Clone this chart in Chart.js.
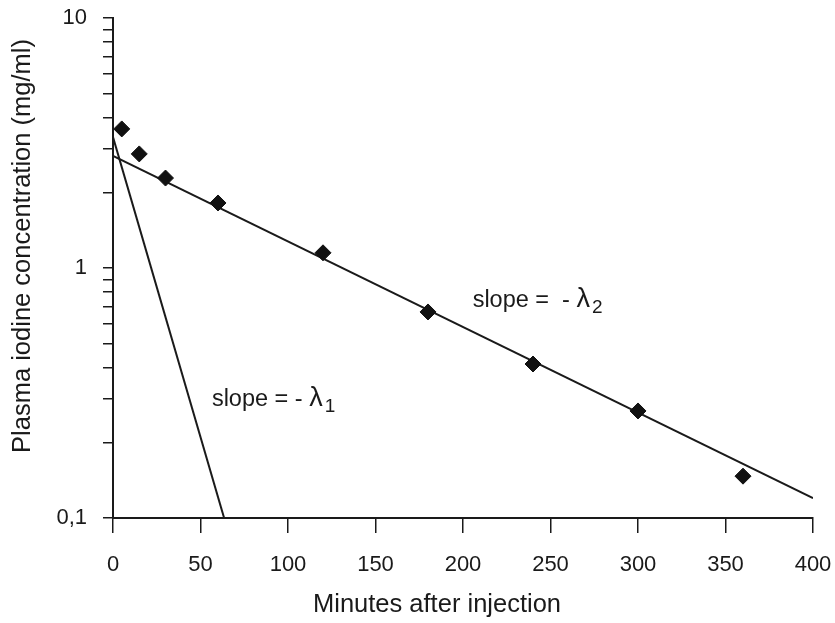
<!DOCTYPE html>
<html>
<head>
<meta charset="utf-8">
<script src="https://cdn.jsdelivr.net/npm/chart.js@4/dist/chart.umd.min.js"></script>
<style>
  html, body { margin: 0; padding: 0; background: #fff; }
  #wrap { width: 835px; height: 623px; }
</style>
</head>
<body>
<div id="wrap"><canvas id="c" width="835" height="623"></canvas></div>
<script>
// ---- data ----
const minutes = [5, 15, 30, 60, 120, 180, 240, 300, 360];
const concentration = [3.60, 2.86, 2.29, 1.82, 1.15, 0.667, 0.413, 0.268, 0.147];
const fastLineX = [0, 63.5];
const fastLineY = [3.34, 0.1];
const slowLineX = [0, 400];
const slowLineY = [2.81, 0.12];
const xTickValues = [0, 50, 100, 150, 200, 250, 300, 350, 400];
const yTickValues = [0.1, 0.2, 0.3, 0.4, 0.5, 0.6, 0.7, 0.8, 0.9, 1, 2, 3, 4, 5, 6, 7, 8, 9, 10];
const yTickLabels = { 0.1: '0,1', 1: '1', 10: '10' };
const slopeLabels = [
  { text: 'slope =  - ', greek: 'λ', sub: '2', x: 205.5, y: 0.74 },
  { text: 'slope = - ', greek: 'λ', sub: '1', x: 56.5, y: 0.297 }
];
const xTitle = 'Minutes after injection';
const yTitle = 'Plasma iodine concentration (mg/ml)';

const FONT = '"Liberation Sans", Arial, Helvetica, sans-serif';
const INK = '#1a1a1a';

const pairs = (xs, ys) => xs.map((x, i) => ({ x: x, y: ys[i] }));

const textPlugin = {
  id: 'extraText',
  afterDatasetsDraw(chart) {
    const ctx = chart.ctx;
    const xs = chart.scales.x, ys = chart.scales.y;
    ctx.save();
    ctx.fillStyle = INK;
    ctx.textBaseline = 'middle';
    ctx.textAlign = 'left';
    slopeLabels.forEach(l => {
      let px = xs.getPixelForValue(l.x);
      const py = ys.getPixelForValue(l.y);
      ctx.font = '23.5px ' + FONT;
      ctx.fillText(l.text, px, py);
      px += ctx.measureText(l.text).width;
      ctx.font = '27px ' + FONT;
      ctx.fillText(l.greek, px, py - 1);
      px += ctx.measureText(l.greek).width;
      ctx.font = '19px ' + FONT;
      ctx.fillText(l.sub, px + 2, py + 7);
    });
    // axis titles
    const area = chart.chartArea;
    ctx.font = '25.5px ' + FONT;
    ctx.textAlign = 'center';
    ctx.fillText(xTitle, area.left + 324, 605);
    ctx.translate(23, area.top + 228);
    ctx.rotate(-Math.PI / 2);
    ctx.fillText(yTitle, 0, 0);
    ctx.restore();
  }
};

const noOverflow = s => {
  s.paddingTop = 0; s.paddingBottom = 0; s.paddingLeft = 0; s.paddingRight = 0;
};

new Chart(document.getElementById('c'), {
  type: 'scatter',
  data: {
    datasets: [
      {
        label: 'measured',
        data: pairs(minutes, concentration),
        pointStyle: 'rectRot',
        pointRadius: 8,
        pointHoverRadius: 8,
        backgroundColor: '#111',
        borderColor: '#111',
        borderWidth: 1,
        showLine: false
      },
      {
        label: 'fast',
        data: pairs(fastLineX, fastLineY),
        showLine: true,
        pointRadius: 0,
        borderColor: INK,
        borderWidth: 2,
        fill: false
      },
      {
        label: 'slow',
        data: pairs(slowLineX, slowLineY),
        showLine: true,
        pointRadius: 0,
        borderColor: INK,
        borderWidth: 2,
        fill: false
      }
    ]
  },
  options: {
    responsive: false,
    animation: false,
    devicePixelRatio: 1,
    layout: { padding: { left: 0, top: 18, right: 22, bottom: 0 } },
    plugins: { legend: { display: false }, tooltip: { enabled: false } },
    scales: {
      x: {
        type: 'linear',
        min: 0, max: 400,
        afterFit: s => { s.height = 105; noOverflow(s); },
        afterBuildTicks: s => { s.ticks = xTickValues.map(v => ({ value: v })); },
        ticks: {
          color: INK,
          font: { family: FONT, size: 22, lineHeight: 1 },
          padding: 21,
          maxRotation: 0,
          autoSkip: false
        },
        grid: {
          display: true,
          drawOnChartArea: false,
          drawTicks: true,
          tickLength: 15,
          color: INK,
          lineWidth: 1.5
        },
        border: { display: true, color: INK, width: 2 },
        title: { display: false }
      },
      y: {
        type: 'logarithmic',
        min: 0.1, max: 10,
        afterFit: s => { s.width = 113; noOverflow(s); },
        afterBuildTicks: s => { s.ticks = yTickValues.map(v => ({ value: v })); },
        ticks: {
          color: INK,
          font: { family: FONT, size: 22, lineHeight: 1 },
          padding: 16,
          autoSkip: false,
          callback: v => (yTickLabels[v] !== undefined ? yTickLabels[v] : '')
        },
        grid: {
          display: true,
          drawOnChartArea: false,
          drawTicks: true,
          tickLength: 10,
          color: INK,
          lineWidth: 1.5
        },
        border: { display: true, color: INK, width: 2 },
        title: { display: false }
      }
    }
  },
  plugins: [textPlugin]
});
</script>
</body>
</html>
